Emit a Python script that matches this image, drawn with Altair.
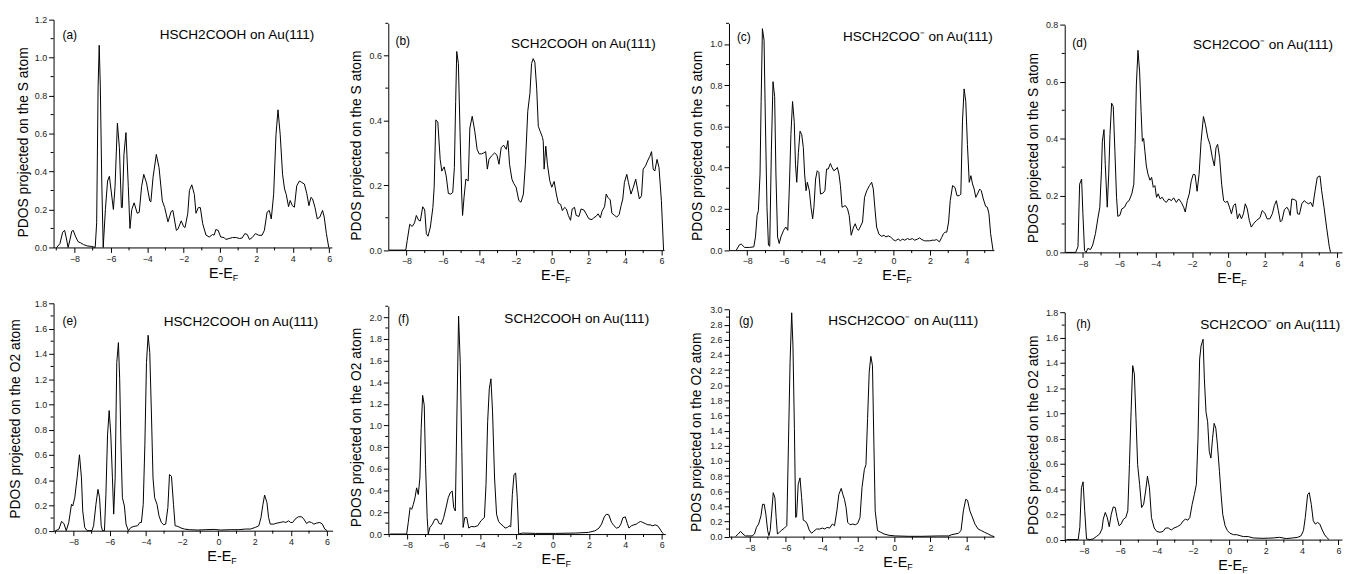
import altair as alt
import pandas as pd

FONT = "Liberation Sans"

# ---------------- data (E-E_F, PDOS) ----------------
A_PTS = [(-8.98,0.0),(-8.8,0.02),(-8.65,0.08),(-8.54,0.09),(-8.45,0.05),(-8.35,0.0),(-8.25,0.04),(-8.15,0.085),(-8.07,0.09),(-7.95,0.06),(-7.8,0.03),(-7.67,0.025),(-7.5,0.015),(-7.3,0.008),(-7.04,0.005),(-6.86,0.0),(-6.78,0.13),(-6.7,0.85),(-6.64,1.065),(-6.58,0.85),(-6.5,0.35),(-6.42,0.0),(-6.3,0.2),(-6.18,0.35),(-6.08,0.375),(-5.86,0.2),(-5.77,0.32),(-5.64,0.655),(-5.53,0.525),(-5.42,0.21),(-5.37,0.21),(-5.28,0.49),(-5.17,0.605),(-5.04,0.32),(-4.95,0.1),(-4.85,0.2),(-4.72,0.235),(-4.55,0.18),(-4.44,0.185),(-4.31,0.32),(-4.19,0.385),(-4.04,0.34),(-3.86,0.245),(-3.8,0.24),(-3.68,0.37),(-3.5,0.49),(-3.35,0.42),(-3.17,0.245),(-3.04,0.21),(-2.86,0.135),(-2.68,0.19),(-2.59,0.195),(-2.4,0.09),(-2.32,0.095),(-2.13,0.14),(-2.0,0.11),(-1.92,0.105),(-1.77,0.18),(-1.68,0.3),(-1.55,0.33),(-1.41,0.28),(-1.32,0.18),(-1.19,0.21),(-1.08,0.21),(-0.95,0.125),(-0.77,0.065),(-0.59,0.055),(-0.41,0.068),(-0.32,0.065),(-0.23,0.094),(-0.1,0.09),(0.04,0.055),(0.23,0.052),(0.32,0.042),(0.5,0.047),(0.68,0.052),(0.9,0.052),(1.08,0.047),(1.22,0.05),(1.37,0.073),(1.5,0.068),(1.62,0.042),(1.77,0.052),(1.95,0.073),(2.13,0.064),(2.31,0.064),(2.44,0.09),(2.59,0.186),(2.71,0.195),(2.82,0.15),(2.95,0.28),(3.08,0.595),(3.19,0.725),(3.31,0.595),(3.44,0.386),(3.55,0.308),(3.64,0.28),(3.77,0.215),(3.86,0.247),(3.98,0.22),(4.09,0.212),(4.22,0.325),(4.37,0.35),(4.49,0.343),(4.64,0.334),(4.77,0.285),(4.89,0.22),(5.0,0.264),(5.09,0.256),(5.22,0.212),(5.35,0.15),(5.49,0.16),(5.64,0.195),(5.73,0.16),(5.85,0.073),(5.98,0.0)]

B_PTS = [(-8.96,0.0),(-8.04,0.0),(-7.96,0.03),(-7.82,0.08),(-7.69,0.073),(-7.56,0.084),(-7.46,0.107),(-7.33,0.092),(-7.24,0.09),(-7.11,0.134),(-7.0,0.124),(-6.91,0.051),(-6.82,0.043),(-6.69,0.071),(-6.55,0.132),(-6.48,0.194),(-6.39,0.402),(-6.28,0.395),(-6.15,0.28),(-6.06,0.244),(-5.93,0.257),(-5.82,0.229),(-5.7,0.175),(-5.57,0.173),(-5.46,0.178),(-5.37,0.255),(-5.3,0.458),(-5.24,0.613),(-5.15,0.576),(-5.06,0.367),(-4.97,0.173),(-4.92,0.107),(-4.84,0.163),(-4.74,0.219),(-4.61,0.214),(-4.52,0.377),(-4.39,0.413),(-4.25,0.367),(-4.12,0.311),(-4.01,0.297),(-3.88,0.297),(-3.76,0.3),(-3.65,0.304),(-3.56,0.25),(-3.47,0.28),(-3.34,0.29),(-3.16,0.3),(-3.03,0.293),(-2.92,0.265),(-2.8,0.316),(-2.67,0.324),(-2.52,0.311),(-2.43,0.338),(-2.34,0.265),(-2.21,0.219),(-2.11,0.206),(-1.98,0.194),(-1.83,0.153),(-1.71,0.148),(-1.58,0.173),(-1.47,0.265),(-1.34,0.428),(-1.22,0.484),(-1.13,0.576),(-1.04,0.591),(-0.95,0.58),(-0.85,0.5),(-0.76,0.382),(-0.66,0.367),(-0.53,0.348),(-0.49,0.336),(-0.44,0.25),(-0.35,0.321),(-0.26,0.265),(-0.13,0.214),(-0.02,0.194),(0.11,0.212),(0.23,0.173),(0.34,0.145),(0.47,0.141),(0.56,0.122),(0.69,0.132),(0.78,0.127),(0.89,0.107),(1.01,0.092),(1.1,0.127),(1.23,0.132),(1.32,0.107),(1.47,0.104),(1.59,0.127),(1.74,0.124),(1.87,0.112),(2.01,0.097),(2.19,0.094),(2.28,0.1),(2.41,0.104),(2.52,0.112),(2.65,0.1),(2.74,0.12),(2.88,0.134),(2.97,0.173),(3.06,0.163),(3.19,0.155),(3.28,0.114),(3.43,0.107),(3.55,0.102),(3.68,0.11),(3.79,0.138),(3.88,0.158),(3.97,0.209),(4.1,0.234),(4.19,0.209),(4.33,0.173),(4.46,0.194),(4.59,0.219),(4.69,0.188),(4.79,0.158),(4.91,0.168),(5.0,0.25),(5.13,0.26),(5.24,0.275),(5.37,0.29),(5.46,0.304),(5.55,0.25),(5.64,0.244),(5.76,0.28),(5.87,0.255),(6.0,0.153),(6.12,0.0)]

C_PTS = [(-8.6,0.0),(-8.42,0.027),(-8.33,0.029),(-8.14,0.013),(-7.87,0.013),(-7.64,0.016),(-7.55,0.064),(-7.46,0.168),(-7.39,0.192),(-7.3,0.369),(-7.24,0.721),(-7.17,1.074),(-7.08,1.018),(-7.01,0.641),(-6.92,0.208),(-6.84,0.024),(-6.77,0.019),(-6.68,0.481),(-6.59,0.817),(-6.5,0.745),(-6.43,0.369),(-6.34,0.064),(-6.25,0.032),(-6.16,0.064),(-6.01,0.096),(-5.89,0.112),(-5.78,0.096),(-5.69,0.321),(-5.61,0.561),(-5.52,0.721),(-5.43,0.625),(-5.36,0.417),(-5.29,0.329),(-5.2,0.473),(-5.11,0.577),(-5.02,0.561),(-4.93,0.497),(-4.86,0.369),(-4.78,0.288),(-4.71,0.329),(-4.6,0.288),(-4.51,0.208),(-4.42,0.152),(-4.35,0.208),(-4.26,0.345),(-4.17,0.385),(-4.08,0.377),(-3.99,0.272),(-3.86,0.276),(-3.75,0.288),(-3.66,0.393),(-3.57,0.393),(-3.45,0.42),(-3.36,0.401),(-3.26,0.385),(-3.14,0.393),(-3.07,0.401),(-2.98,0.369),(-2.9,0.313),(-2.81,0.208),(-2.72,0.212),(-2.63,0.216),(-2.51,0.2),(-2.42,0.168),(-2.31,0.072),(-2.18,0.112),(-2.09,0.128),(-2.0,0.104),(-1.91,0.096),(-1.82,0.112),(-1.69,0.136),(-1.58,0.256),(-1.46,0.288),(-1.31,0.313),(-1.19,0.329),(-1.1,0.296),(-1.01,0.2),(-0.92,0.112),(-0.79,0.077),(-0.64,0.067),(-0.52,0.072),(-0.41,0.064),(-0.28,0.069),(-0.16,0.064),(-0.01,0.051),(0.11,0.045),(0.26,0.054),(0.39,0.045),(0.49,0.054),(0.62,0.048),(0.77,0.056),(0.89,0.051),(1.04,0.056),(1.16,0.048),(1.31,0.053),(1.43,0.059),(1.56,0.051),(1.71,0.045),(1.83,0.045),(1.98,0.045),(2.12,0.048),(2.25,0.048),(2.37,0.051),(2.52,0.04),(2.64,0.061),(2.74,0.08),(2.83,0.087),(2.92,0.087),(3.02,0.136),(3.11,0.24),(3.24,0.313),(3.37,0.304),(3.48,0.264),(3.6,0.264),(3.69,0.272),(3.78,0.625),(3.87,0.782),(3.96,0.721),(4.05,0.513),(4.15,0.329),(4.24,0.361),(4.33,0.321),(4.42,0.296),(4.51,0.256),(4.6,0.272),(4.72,0.296),(4.81,0.288),(4.92,0.248),(5.05,0.212),(5.14,0.208),(5.23,0.176),(5.32,0.08),(5.45,0.0)]

D_PTS = [(-8.94,0.0),(-8.4,0.0),(-8.27,0.02),(-8.18,0.24),(-8.07,0.258),(-8.0,0.136),(-7.91,0.006),(-7.82,0.0),(-7.73,0.014),(-7.58,0.01),(-7.46,0.026),(-7.31,0.066),(-7.18,0.118),(-7.07,0.159),(-6.98,0.287),(-6.93,0.391),(-6.84,0.432),(-6.77,0.31),(-6.66,0.159),(-6.58,0.275),(-6.51,0.415),(-6.42,0.525),(-6.33,0.513),(-6.24,0.356),(-6.15,0.194),(-6.08,0.127),(-5.97,0.13),(-5.86,0.153),(-5.71,0.159),(-5.58,0.176),(-5.46,0.182),(-5.31,0.206),(-5.2,0.24),(-5.13,0.38),(-5.06,0.589),(-4.97,0.711),(-4.88,0.635),(-4.8,0.496),(-4.73,0.391),(-4.66,0.401),(-4.59,0.356),(-4.51,0.304),(-4.42,0.275),(-4.31,0.254),(-4.22,0.264),(-4.13,0.229),(-4.04,0.235),(-3.95,0.194),(-3.86,0.206),(-3.75,0.188),(-3.64,0.194),(-3.53,0.182),(-3.41,0.176),(-3.28,0.188),(-3.13,0.182),(-3.01,0.192),(-2.86,0.176),(-2.73,0.188),(-2.59,0.176),(-2.46,0.159),(-2.37,0.142),(-2.26,0.182),(-2.15,0.206),(-2.04,0.252),(-1.93,0.275),(-1.83,0.273),(-1.72,0.215),(-1.61,0.275),(-1.5,0.391),(-1.37,0.478),(-1.26,0.449),(-1.13,0.403),(-1.01,0.38),(-0.88,0.333),(-0.77,0.304),(-0.68,0.368),(-0.59,0.38),(-0.48,0.333),(-0.37,0.24),(-0.26,0.182),(-0.16,0.176),(-0.05,0.18),(0.06,0.159),(0.17,0.136),(0.28,0.165),(0.39,0.171),(0.5,0.118),(0.61,0.136),(0.72,0.118),(0.83,0.136),(0.93,0.171),(1.04,0.153),(1.15,0.113),(1.26,0.089),(1.41,0.103),(1.56,0.113),(1.74,0.122),(1.86,0.147),(2.01,0.138),(2.13,0.118),(2.28,0.118),(2.42,0.136),(2.53,0.165),(2.64,0.182),(2.75,0.147),(2.86,0.107),(2.95,0.113),(3.08,0.15),(3.22,0.159),(3.33,0.147),(3.4,0.13),(3.49,0.188),(3.62,0.186),(3.73,0.182),(3.8,0.136),(3.91,0.134),(4.04,0.171),(4.17,0.182),(4.28,0.176),(4.4,0.171),(4.53,0.176),(4.64,0.161),(4.77,0.217),(4.89,0.264),(5.04,0.269),(5.13,0.217),(5.26,0.159),(5.4,0.089),(5.55,0.02),(5.62,0.0)]

E_PTS = [(-8.98,0.0),(-8.8,0.013),(-8.66,0.073),(-8.53,0.057),(-8.4,0.0),(-8.26,0.065),(-8.11,0.209),(-8.04,0.196),(-7.93,0.261),(-7.8,0.418),(-7.67,0.601),(-7.56,0.418),(-7.49,0.157),(-7.38,0.026),(-7.25,0.0),(-6.98,0.0),(-6.89,0.039),(-6.76,0.209),(-6.65,0.327),(-6.56,0.261),(-6.47,0.039),(-6.4,0.0),(-6.29,0.0),(-6.21,0.287),(-6.12,0.758),(-6.03,0.951),(-5.94,0.758),(-5.85,0.418),(-5.78,0.131),(-5.7,0.418),(-5.61,1.332),(-5.52,1.489),(-5.45,1.202),(-5.38,0.679),(-5.3,0.261),(-5.19,0.196),(-5.1,0.052),(-4.97,0.0),(-4.83,0.026),(-4.65,0.034),(-4.46,0.039),(-4.34,0.065),(-4.25,0.065),(-4.15,0.209),(-4.06,0.679),(-3.97,1.332),(-3.88,1.547),(-3.79,1.411),(-3.7,0.94),(-3.61,0.418),(-3.52,0.261),(-3.39,0.209),(-3.28,0.118),(-3.15,0.065),(-3.02,0.047),(-2.91,0.052),(-2.79,0.183),(-2.7,0.444),(-2.59,0.431),(-2.48,0.209),(-2.39,0.039),(-2.24,0.034),(-2.06,0.021),(-1.88,0.013),(-1.6,0.008),(-1.15,0.005),(-0.69,0.008),(-0.23,0.01),(0.13,0.005),(0.68,0.008),(1.13,0.008),(1.5,0.013),(1.77,0.013),(2.04,0.026),(2.23,0.039),(2.35,0.104),(2.46,0.209),(2.55,0.282),(2.68,0.222),(2.77,0.104),(2.86,0.052),(3.05,0.052),(3.23,0.06),(3.41,0.065),(3.59,0.071),(3.72,0.065),(3.87,0.078),(3.99,0.065),(4.1,0.065),(4.23,0.091),(4.41,0.11),(4.6,0.11),(4.72,0.091),(4.87,0.057),(5.0,0.071),(5.14,0.065),(5.27,0.052),(5.42,0.06),(5.6,0.065),(5.74,0.052),(5.87,0.013),(6.0,0.0)]

F_PTS = [(-8.95,0.0),(-8.04,0.0),(-7.95,0.107),(-7.85,0.244),(-7.76,0.228),(-7.67,0.274),(-7.58,0.335),(-7.49,0.426),(-7.4,0.365),(-7.31,0.517),(-7.24,0.974),(-7.16,1.279),(-7.07,1.187),(-7.0,0.639),(-6.91,0.152),(-6.85,0.0),(-6.76,0.061),(-6.62,0.091),(-6.49,0.137),(-6.36,0.137),(-6.25,0.097),(-6.13,0.091),(-6.0,0.152),(-5.85,0.259),(-5.75,0.335),(-5.64,0.381),(-5.53,0.396),(-5.45,0.244),(-5.36,0.213),(-5.27,1.126),(-5.18,2.01),(-5.09,1.583),(-5.0,0.761),(-4.93,0.061),(-4.84,0.152),(-4.73,0.152),(-4.62,0.055),(-4.49,0.07),(-4.31,0.067),(-4.13,0.076),(-3.95,0.122),(-3.76,0.152),(-3.67,0.457),(-3.58,1.035),(-3.49,1.339),(-3.4,1.431),(-3.31,1.126),(-3.2,0.517),(-3.09,0.183),(-2.98,0.116),(-2.85,0.091),(-2.73,0.076),(-2.62,0.055),(-2.49,0.061),(-2.4,0.076),(-2.31,0.067),(-2.22,0.365),(-2.13,0.548),(-2.04,0.563),(-1.95,0.335),(-1.87,0.0),(-1.67,0.009),(-0.95,0.006),(0.15,0.006),(1.24,0.009),(1.96,0.015),(2.33,0.03),(2.55,0.055),(2.69,0.091),(2.84,0.158),(2.96,0.183),(3.09,0.177),(3.24,0.107),(3.38,0.076),(3.51,0.055),(3.64,0.061),(3.75,0.091),(3.87,0.152),(4.0,0.158),(4.11,0.097),(4.2,0.055),(4.33,0.076),(4.47,0.085),(4.6,0.091),(4.73,0.107),(4.84,0.116),(4.96,0.107),(5.09,0.097),(5.24,0.085),(5.36,0.085),(5.51,0.076),(5.64,0.085),(5.78,0.076),(5.91,0.046),(6.02,0.015),(6.11,0.0)]

G_PTS = [(-8.79,0.0),(-8.64,0.035),(-8.51,0.07),(-8.38,0.035),(-8.24,0.009),(-7.87,0.009),(-7.74,0.035),(-7.63,0.122),(-7.51,0.166),(-7.38,0.275),(-7.29,0.427),(-7.2,0.427),(-7.11,0.297),(-7.01,0.079),(-6.94,0.013),(-6.87,0.079),(-6.78,0.34),(-6.7,0.58),(-6.61,0.515),(-6.54,0.253),(-6.47,0.035),(-6.36,0.057),(-6.23,0.087),(-6.08,0.113),(-5.95,0.144),(-5.86,1.212),(-5.77,2.303),(-5.68,2.957),(-5.61,2.521),(-5.53,1.43),(-5.46,0.253),(-5.41,0.262),(-5.32,0.689),(-5.22,0.776),(-5.13,0.515),(-5.04,0.218),(-4.91,0.201),(-4.82,0.166),(-4.71,0.087),(-4.58,0.044),(-4.46,0.07),(-4.31,0.1),(-4.13,0.1),(-3.98,0.113),(-3.85,0.1),(-3.73,0.122),(-3.58,0.113),(-3.43,0.166),(-3.31,0.144),(-3.18,0.34),(-3.07,0.558),(-2.94,0.637),(-2.85,0.558),(-2.76,0.493),(-2.67,0.384),(-2.58,0.188),(-2.45,0.157),(-2.3,0.166),(-2.16,0.157),(-2.03,0.174),(-1.9,0.253),(-1.79,0.645),(-1.66,0.885),(-1.57,0.951),(-1.48,1.561),(-1.39,2.172),(-1.3,2.381),(-1.21,2.259),(-1.13,1.212),(-1.06,0.34),(-0.93,0.079),(-0.75,0.057),(-0.57,0.035),(-0.29,0.017),(0.07,0.009),(0.8,0.004),(1.53,0.004),(2.45,0.009),(3.0,0.009),(3.18,0.026),(3.36,0.035),(3.54,0.044),(3.69,0.079),(3.82,0.34),(3.95,0.493),(4.05,0.48),(4.18,0.34),(4.31,0.262),(4.46,0.166),(4.64,0.1),(4.82,0.079),(5.0,0.057),(5.19,0.035),(5.37,0.013),(5.52,0.0)]

H_PTS = [(-8.94,0.0),(-8.31,0.0),(-8.22,0.097),(-8.13,0.411),(-8.04,0.458),(-7.95,0.228),(-7.85,0.005),(-7.67,0.0),(-7.49,0.005),(-7.31,0.024),(-7.13,0.044),(-7.0,0.084),(-6.93,0.162),(-6.82,0.215),(-6.71,0.175),(-6.6,0.102),(-6.49,0.201),(-6.38,0.259),(-6.27,0.254),(-6.17,0.175),(-6.06,0.11),(-5.95,0.123),(-5.82,0.162),(-5.69,0.175),(-5.58,0.228),(-5.49,0.594),(-5.4,1.013),(-5.31,1.379),(-5.22,1.313),(-5.13,0.96),(-5.04,0.594),(-4.93,0.437),(-4.82,0.254),(-4.71,0.28),(-4.6,0.385),(-4.5,0.502),(-4.39,0.411),(-4.28,0.175),(-4.13,0.092),(-3.99,0.065),(-3.81,0.058),(-3.64,0.065),(-3.5,0.092),(-3.35,0.092),(-3.19,0.076),(-3.04,0.092),(-2.86,0.102),(-2.68,0.118),(-2.53,0.149),(-2.41,0.162),(-2.28,0.154),(-2.17,0.175),(-2.04,0.28),(-1.92,0.358),(-1.81,0.437),(-1.72,0.803),(-1.63,1.431),(-1.55,1.536),(-1.44,1.588),(-1.37,1.274),(-1.28,1.013),(-1.19,0.934),(-1.1,0.699),(-1.01,0.646),(-0.92,0.803),(-0.83,0.921),(-0.74,0.882),(-0.65,0.751),(-0.54,0.542),(-0.45,0.358),(-0.36,0.201),(-0.23,0.11),(-0.1,0.071),(0.04,0.05),(0.23,0.039),(0.41,0.039),(0.59,0.031),(0.77,0.024),(1.04,0.024),(1.32,0.013),(1.86,0.01),(2.41,0.013),(2.77,0.018),(3.13,0.008),(3.49,0.013),(3.77,0.018),(3.95,0.031),(4.08,0.071),(4.18,0.175),(4.31,0.358),(4.4,0.372),(4.51,0.28),(4.62,0.149),(4.73,0.123),(4.86,0.136),(4.98,0.123),(5.09,0.084),(5.22,0.044),(5.35,0.018),(5.49,0.0)]

LETTERS = ["(a)", "(b)", "(c)", "(d)", "(e)", "(f)", "(g)", "(h)"]
LABELS = ["HSCH2COOH on Au(111)", "SCH2COOH on Au(111)", "HSCH2COO\u207b on Au(111)", "SCH2COO\u207b on Au(111)",
          "HSCH2COOH on Au(111)", "SCH2COOH on Au(111)", "HSCH2COO\u207b on Au(111)", "SCH2COO\u207b on Au(111)"]
YTITLES = ["PDOS projected on the S atom"] * 4 + ["PDOS projected on the O2 atom"] * 4
XDOMAINS = [(-9.15, 6.15), (-9.0, 6.15), (-9.0, 5.5), (-9.0, 6.25),
            (-9.1, 6.3), (-9.05, 6.2), (-9.15, 5.52), (-9.05, 6.2)]
YMAX = [1.2, 0.7, 1.1, 0.8, 1.8, 2.1, 3.0, 1.8]
X_MAJOR = [-8, -6, -4, -2, 0, 2, 4, 6]
SERIES = [A_PTS, B_PTS, C_PTS, D_PTS, E_PTS, F_PTS, G_PTS, H_PTS]

# ---------------- layout (pixels) ----------------
LAYOUT = [
    dict(W=337.5, w=281.0, H=235.0, d=0.0, h=230.0, tx=26.7, ty=8.5, lab=(9, 16), ttl=(263.3, 16)),
    dict(W=340.0, w=278.5, H=235.0, d=3.7, h=229.0, tx=27.7, ty=8.5, lab=(7.3, 18), ttl=(270, 20.7)),
    dict(W=337.3, w=267.5, H=235.0, d=3.7, h=229.0, tx=27.7, ty=8.8, lab=(8, 14), ttl=(266.3, 14)),
    dict(W=281.0, w=280.0, H=235.0, d=5.4, h=229.6, tx=27.6, ty=9.0, lab=(7.7, 18), ttl=(271, 20)),
    dict(W=334.8, w=281.7, H=238.6, d=0.0, h=229.6, tx=34.0, ty=1.5, lab=(9, 18), ttl=(267.4, 19)),
    dict(W=343.4, w=279.7, H=238.6, d=3.0, h=230.0, tx=28.5, ty=7.0, lab=(9.7, 12.6), ttl=(263.4, 13.3)),
    dict(W=338.3, w=267.7, H=238.6, d=6.3, h=229.3, tx=28.4, ty=8.7, lab=(10, 11.7), ttl=(251.6, 11.7)),
    dict(W=281.0, w=280.0, H=238.6, d=9.3, h=229.3, tx=27.7, ty=8.8, lab=(11.7, 12), ttl=(278.3, 13)),
]


def make_panel(i):
    L = LAYOUT[i]
    xlo, xhi = XDOMAINS[i]
    ymax = YMAX[i]
    bottom = L["d"] + L["h"]
    df = pd.DataFrame(SERIES[i], columns=["e", "pdos"])

    xs = alt.Scale(domain=[xlo, xhi], range=[0, L["w"]], nice=False, zero=False)
    ys = alt.Scale(domain=[0, ymax], range=[bottom, L["d"]], nice=False, zero=False)

    xmaj = [v for v in X_MAJOR if xlo <= v <= xhi]
    xmin = [v for v in range(-9, 7, 2) if xlo + 0.01 < v <= xhi]
    ymaj = [round(k * 0.2, 1) for k in range(20) if k * 0.2 <= ymax + 1e-9]
    ymin = [round(0.1 + k * 0.2, 1) for k in range(20) if 0.1 + k * 0.2 <= ymax + 1e-9]

    common = dict(grid=False, domainColor="black", tickColor="black", domainWidth=1, tickWidth=1,
                  labelColor="#222", labelFontSize=9, labelFont=FONT, labelPadding=2, tickSize=5,
                  labelFlush=False, labelOverlap=False, labelBound=False)
    xaxis = alt.Axis(values=xmaj, format="d", title=None, offset=bottom - L["H"], **common)
    yaxis = alt.Axis(values=ymaj, format=".1f", title=YTITLES[i], titleX=-L["tx"],
                     titleY=L["d"] + L["h"] / 2 + L["ty"], titleAngle=270, titleBaseline="alphabetic",
                     titleAlign="center", titleFontSize=14, titleFontWeight="normal", titleColor="black",
                     titleFont=FONT, **common)

    X = lambda: alt.X("e:Q", scale=xs, axis=xaxis)
    Y = lambda: alt.Y("pdos:Q", scale=ys, axis=yaxis)

    line = alt.Chart(df).mark_line(color="black", strokeWidth=1).encode(x=X(), y=Y())
    # minor ticks drawn through the same scales (identical axis specs so the axes merge cleanly)
    ytk = alt.Chart(pd.DataFrame({"pdos": ymin})).mark_rule(color="black", strokeWidth=1).encode(
        y=Y(), x=alt.value(0), x2=alt.value(-3))
    xtk = alt.Chart(pd.DataFrame({"e": xmin})).mark_rule(color="black", strokeWidth=1).encode(
        x=X(), y=alt.value(bottom), y2=alt.value(bottom + 3))

    letter = alt.Chart(pd.DataFrame({"t": [LETTERS[i]]})).mark_text(
        align="left", baseline="middle", fontSize=12, font=FONT, color="black").encode(
        text="t:N", x=alt.value(L["lab"][0]), y=alt.value(L["d"] + L["lab"][1]))
    label = alt.Chart(pd.DataFrame({"t": [LABELS[i]]})).mark_text(
        align="right", baseline="middle", fontSize=13.7, font=FONT, color="black").encode(
        text="t:N", x=alt.value(L["ttl"][0]), y=alt.value(L["d"] + L["ttl"][1]))

    ef = pd.DataFrame({"e": [0.0], "t": ["E-E"], "s": ["F"]})
    xt = alt.Chart(ef).mark_text(align="right", baseline="alphabetic", fontSize=14.5, font=FONT,
                                 color="black", dx=13).encode(
        text="t:N", x=X(), y=alt.value(bottom + 30.5))
    xs_sub = alt.Chart(ef).mark_text(align="left", baseline="alphabetic", fontSize=9, font=FONT,
                                     color="black", dx=13).encode(
        text="s:N", x=X(), y=alt.value(bottom + 33.5))

    return alt.layer(line, ytk, xtk, letter, label, xt, xs_sub).properties(width=L["W"], height=L["H"])


panels = [make_panel(i) for i in range(8)]

chart = alt.concat(*panels, columns=4, spacing={"row": 51.4, "column": 0},
                   bounds="flush", align="none").properties(
    padding={"left": 0, "top": 5, "right": 0, "bottom": 0}
).configure(font=FONT).configure_view(stroke=None)

chart.save("out.html", embed_options={"renderer": "svg", "actions": False})
